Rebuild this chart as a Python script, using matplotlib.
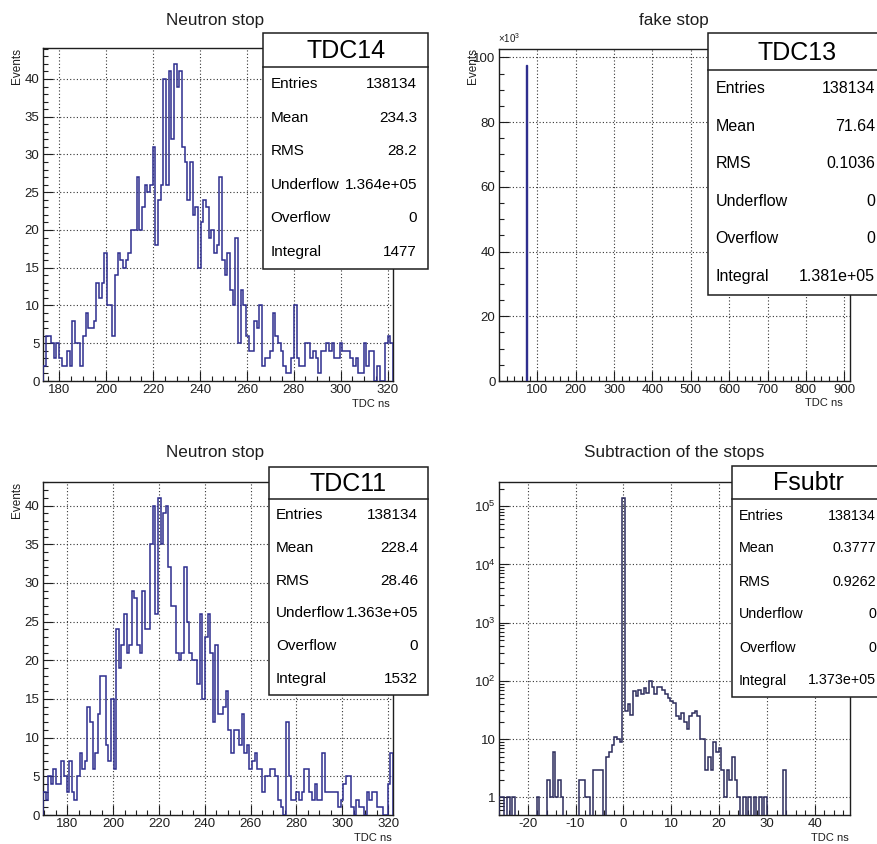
import numpy as np
import matplotlib
matplotlib.use("Agg")
import matplotlib.pyplot as plt
from matplotlib.patches import Rectangle
from matplotlib.ticker import MultipleLocator, FixedLocator, LogLocator, NullFormatter, FuncFormatter

plt.rcParams['font.family'] = ['Liberation Sans', 'DejaVu Sans']
plt.rcParams['mathtext.fontset'] = 'custom'
plt.rcParams['mathtext.rm'] = 'Liberation Sans'
plt.rcParams['axes.unicode_minus'] = False

# --- histogram contents -------------------------------------------------
# TDC14, neutron stop (ns)
tdc14_start, tdc14_width = 173.0, 1.14
tdc14_counts = [2, 6, 6, 5, 3, 5, 3, 2, 2, 4,
                2, 8, 5, 5, 2, 6, 9, 7, 7, 8,
                13, 11, 13, 17, 10, 10, 6, 14, 17, 16,
                15, 16, 17, 20,
                20, 27, 20, 23, 26, 25, 26, 31, 18, 24,
                26, 40, 26, 41, 32, 42, 39, 41, 31, 29,
                24, 29, 22, 23, 15,
                21, 24, 23, 19, 20, 17, 18, 27, 16, 14, 17, 12, 10, 19,
                5, 12, 10, 6, 4, 4, 8, 7, 10,
                2, 3, 3, 4, 9, 6, 5, 4, 2, 1, 1, 3, 10, 3, 2, 2, 5, 5, 3, 4,
                3, 1, 4, 4, 5, 4, 5, 3, 3, 5, 4, 4, 4, 3, 2, 3, 1, 1, 5, 2,
                4, 4, 0, 2, 0, 0, 5, 6, 5]

# TDC13, fake stop (ns) - everything sits in two adjacent bins
tdc13_edges = [71.2, 71.7, 72.2]
tdc13_counts = [97700, 40400]

# TDC11, neutron stop (ns)
tdc11_start, tdc11_width = 169.4, 1.14
tdc11_counts = [3, 2, 5, 4, 6, 4, 4, 7, 5, 3, 7, 3, 2, 5, 8, 6, 7, 14,
                12, 6, 8, 13, 18, 18, 9, 7, 15, 6,
                24, 19, 22, 26, 21, 22, 29, 28, 22, 21, 29, 24, 24,
                35, 40, 26, 41, 35, 39, 40, 32, 27, 27, 21, 20, 21, 32,
                25, 21, 20, 20, 17, 26, 15, 23, 26, 21, 12, 22, 13, 13, 14, 16,
                11, 8, 11, 11, 9, 13, 8, 9, 6, 7, 8,
                6, 6, 3, 5, 5, 6, 6, 5, 2, 1, 0,
                12, 5, 2, 2, 3, 2, 3, 6, 6, 3, 2, 4, 2, 2, 8, 3, 3, 3, 3, 3,
                1, 2, 4, 5, 5, 1, 0, 2, 1, 1, 0,
                3, 2, 3, 3, 1, 1, 0, 0, 4, 8]

# Fsubtr, difference of the two stops (ns)
fsub_start, fsub_width = -26.0, 0.56
fsub_counts = [1, 1, 0, 1, 0, 1, 0, 0, 0, 0,
               0, 0, 0, 0, 1, 0, 0, 0, 2, 1,
               6, 1, 2, 1, 0, 0, 0, 0, 0, 0,
               2, 2, 1, 1, 0, 3, 3, 3, 3, 0,
               5, 6, 8, 11, 10, 9, 135760,
               31, 40, 26, 68, 56, 70, 60, 76, 62, 100,
               80, 60, 80, 80, 70, 60, 50, 45, 42, 25,
               22, 28, 20, 15, 25, 28, 30, 25, 10, 10,
               3, 5, 3, 9, 6, 7, 3, 1, 3, 2, 5, 2,
               1, 0, 1, 0, 1, 0, 1, 0, 1, 0, 1, 0, 0, 0, 0, 0, 0, 3,
               0, 0, 0, 0, 0, 0, 0, 0, 0, 0, 0, 0,
               0, 0, 0, 0, 0, 0, 0, 0, 0, 0, 0, 0]

tdc14_stats = [("Entries", "138134"), ("Mean", "234.3"), ("RMS", "28.2"),
               ("Underflow", "1.364e+05"), ("Overflow", "0"), ("Integral", "1477")]
tdc13_stats = [("Entries", "138134"), ("Mean", "71.64"), ("RMS", "0.1036"),
               ("Underflow", "0"), ("Overflow", "0"), ("Integral", "1.381e+05")]
tdc11_stats = [("Entries", "138134"), ("Mean", "228.4"), ("RMS", "28.46"),
               ("Underflow", "1.363e+05"), ("Overflow", "0"), ("Integral", "1532")]
fsub_stats = [("Entries", "138134"), ("Mean", "0.3777"), ("RMS", "0.9262"),
              ("Underflow", "0"), ("Overflow", "0"), ("Integral", "1.373e+05")]

# --- drawing ------------------------------------------------------------
W, H = 877, 844
HIST = '#2e2e8e'
HIST_LOG = '#2c2c5c'
INK = '#1e1e1e'

fig = plt.figure(figsize=(W / 100, H / 100), dpi=100)


def pad_axes(left, top, right, bottom):
    return fig.add_axes([left / W, 1 - bottom / H, (right - left) / W, (bottom - top) / H])


def root_style(ax):
    ax.tick_params(which='both', direction='in', top=False, right=False,
                   labelsize=9.5, pad=2.5, color=INK, labelcolor=INK, width=0.8)
    ax.tick_params(which='major', length=7)
    ax.tick_params(which='minor', length=3.5)
    ax.grid(True, which='major', color='#333333', ls=(0, (1, 2)), lw=0.8)
    for s in ax.spines.values():
        s.set_linewidth(1.0)
        s.set_color(INK)


def edges_from(start, width, counts):
    return start + width * np.arange(len(counts) + 1)


# top left: TDC14
ax1 = pad_axes(43, 48, 393, 381)
e14 = edges_from(tdc14_start, tdc14_width, tdc14_counts)
ax1.stairs(tdc14_counts, e14, color=HIST, lw=1.1, zorder=3)
ax1.set_xlim(e14[0], e14[-1])
ax1.set_ylim(0, 1.05 * max(tdc14_counts))
ax1.xaxis.set_major_locator(FixedLocator(np.arange(180, 321, 20)))
ax1.xaxis.set_minor_locator(MultipleLocator(5))
ax1.yaxis.set_major_locator(MultipleLocator(5))
ax1.yaxis.set_minor_locator(MultipleLocator(1))
root_style(ax1)

# top right: TDC13
ax2 = pad_axes(499, 49, 850, 381)
ax2.stairs(np.array(tdc13_counts) / 1000.0, tdc13_edges, color=HIST, lw=1.0, zorder=3)
ax2.set_xlim(0, 915)
ax2.set_ylim(0, 1.05 * max(tdc13_counts) / 1000.0)
ax2.xaxis.set_major_locator(FixedLocator(np.arange(100, 901, 100)))
ax2.xaxis.set_minor_locator(MultipleLocator(20))
ax2.yaxis.set_major_locator(MultipleLocator(20))
ax2.yaxis.set_minor_locator(MultipleLocator(5))
root_style(ax2)

# bottom left: TDC11
ax3 = pad_axes(43, 482, 393, 815)
e11 = edges_from(tdc11_start, tdc11_width, tdc11_counts)
ax3.stairs(tdc11_counts, e11, color=HIST, lw=1.1, zorder=3)
ax3.set_xlim(e11[0], e11[-1])
ax3.set_ylim(0, 1.05 * max(tdc11_counts))
ax3.xaxis.set_major_locator(FixedLocator(np.arange(180, 321, 20)))
ax3.xaxis.set_minor_locator(MultipleLocator(5))
ax3.yaxis.set_major_locator(MultipleLocator(5))
ax3.yaxis.set_minor_locator(MultipleLocator(1))
root_style(ax3)

# bottom right: Fsubtr on a log scale
ax4 = pad_axes(499, 482, 850, 815)
ef = edges_from(fsub_start, fsub_width, fsub_counts)
ax4.set_yscale('log')
ax4.stairs(np.clip(fsub_counts, 0.05, None), ef, baseline=0.05, color=HIST_LOG, lw=1.1, zorder=3)
ax4.set_xlim(ef[0], ef[-1])
ax4.set_ylim(0.5, 2.6e5)
ax4.xaxis.set_major_locator(FixedLocator(np.arange(-20, 41, 10)))
ax4.xaxis.set_minor_locator(MultipleLocator(2))
ax4.yaxis.set_major_locator(LogLocator(base=10, numticks=10))
ax4.yaxis.set_minor_locator(LogLocator(base=10, subs=np.arange(2, 10), numticks=20))
ax4.yaxis.set_minor_formatter(NullFormatter())


def pow10(v, pos):
    e = int(round(np.log10(v)))
    if e == 0:
        return '1'
    if e == 1:
        return '10'
    return r'10$^{%d}$' % e


ax4.yaxis.set_major_formatter(FuncFormatter(pow10))
root_style(ax4)

# overlay in pixel coordinates for titles, axis titles and stat boxes
ov = fig.add_axes([0, 0, 1, 1])
ov.set_xlim(0, W)
ov.set_ylim(H, 0)
ov.axis('off')
ov.set_zorder(10)

for x, y, s in [(215, 21, "Neutron stop"), (674, 21, "fake stop"),
                (215, 453, "Neutron stop"), (674, 453, "Subtraction of the stops")]:
    ov.text(x, y, s, fontsize=12.3, ha='center', va='center', color=INK)

for x, y in [(17, 48), (473, 48), (17, 482)]:
    ov.text(x, y, "Events", fontsize=8.5, rotation=90, ha='center', va='top', color=INK)

for x, y in [(390, 404), (843, 403), (392, 838), (849, 838)]:
    ov.text(x, y, "TDC ns", fontsize=8, ha='right', va='center', color=INK)

ov.text(498, 38, r'$\times$10$^{3}$', fontsize=7, ha='left', va='center', color=INK)


def stats_box(l, t, r, b, sep, title, title_x, rows, lab_x, val_x, fs):
    ov.add_patch(Rectangle((l, t), r - l, b - t, fc='white', ec=INK, lw=1.1))
    ov.plot([l, r], [sep, sep], color=INK, lw=1.1)
    ov.text(title_x, (t + sep) / 2 + 1, title, fontsize=18, ha='center', va='center', color='black')
    step = (b - sep) / len(rows)
    for i, (lab, val) in enumerate(rows):
        y = sep + step * (i + 0.5)
        ov.text(lab_x, y, lab, fontsize=fs, ha='left', va='center', color='black')
        ov.text(val_x, y, val, fontsize=fs, ha='right', va='center', color='black')


stats_box(263, 33, 428, 269, 67, "TDC14", 346, tdc14_stats, 270.5, 417, 11)
stats_box(707.5, 33, 890, 295, 70, "TDC13", 797, tdc13_stats, 715.5, 875, 11.5)
stats_box(269, 467, 428, 695, 499, "TDC11", 348.5, tdc11_stats, 276, 418, 11)
stats_box(732, 466, 890, 697, 499, "Fsubtr", 808, fsub_stats, 739, 876, 10.3)

fig.savefig("out.png", dpi=100)
